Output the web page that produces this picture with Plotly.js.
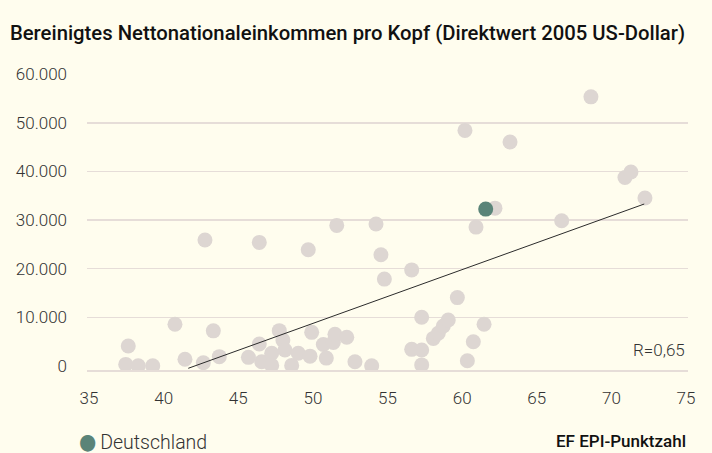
<!DOCTYPE html>
<html><head><meta charset="utf-8">
<script src="https://cdn.plot.ly/plotly-3.0.1.min.js"></script>
<style>html,body{margin:0;padding:0;background:#fffdee;}</style>
</head><body><div id="chart" style="width:712px;height:453px;"></div>
<script>
// EF EPI score (x) and adjusted net national income per capita (y)
const epiScores = [37.46,37.63,38.30,39.27,40.76,41.43,42.66,42.77,43.33,43.73,45.68,46.41,46.41,46.57,47.24,47.24,47.75,47.99,48.13,48.58,49.02,49.81,49.92,50.70,50.90,51.37,51.48,52.27,52.82,53.94,49.69,51.60,54.23,54.56,54.79,56.62,56.62,57.29,57.29,57.29,58.07,58.40,58.74,59.07,59.68,60.35,60.75,61.47,60.93,60.19,62.20,63.21,66.67,68.63,70.91,71.31,72.25];
const incomes =   [300,4100,0,0,8550,1350,650,25900,7200,1900,1750,25400,4500,850,2600,100,7250,5300,3250,100,2600,2000,6900,4400,1600,4800,6500,5900,850,0,23900,28900,29200,22850,17850,19750,3400,3250,200,10000,5650,6700,8200,9450,14050,1050,4950,8550,28550,48450,32450,46050,29850,55350,38750,39900,34550];
const germanyName = ['Deutschland'];
const germanyScore = [61.58];
const germanyIncome = [32250];
const trendX = [41.65, 72.2];
const trendY = [-500, 33300];
const xTicks = [35,40,45,50,55,60,65,70,75];
const yTicks = [0,10000,20000,30000,40000,50000,60000];
const yTickText = ['0','10.000','20.000','30.000','40.000','50.000','60.000'];
const titleText = 'Bereinigtes Nettonationaleinkommen pro Kopf (Direktwert 2005 US-Dollar)';
const xTitleText = 'EF EPI-Punktzahl';
const rText = 'R=0,65';

const FONT = 'Roboto, "DejaVu Sans Condensed", sans-serif';
const grid = '#e6ddd8';
const germanyColor = '#5a8478';

const traces = [
  {x: epiScores, y: incomes, type:'scatter', mode:'markers', showlegend:false, hoverinfo:'skip',
   marker:{size:15, color:'#ddd6d2', line:{width:0}}},
  {x: trendX, y: trendY, type:'scatter', mode:'lines', showlegend:false, hoverinfo:'skip',
   line:{color:'#2b2b2b', width:1}},
  {x: germanyScore, y: germanyIncome, name: germanyName[0], type:'scatter', mode:'markers', showlegend:false,
   marker:{size:15, color:germanyColor, line:{width:0}}}
];

const layout = {
  width:712, height:453,
  paper_bgcolor:'#fffdee', plot_bgcolor:'#fffdee',
  margin:{l:87, r:24, t:74, b:83},
  font:{family:FONT, color:'#222', size:17},
  showlegend:false,
  title:{text:titleText, x:0.014, xanchor:'left', xref:'container', y:0.927, yanchor:'middle', yref:'container',
         font:{family:FONT, size:20.3, color:'#111', weight:500}},
  xaxis:{range:[34.866,75.134], tickvals:xTicks, ticktext:xTicks.map(String), showgrid:false, zeroline:false,
         showline:true, linecolor:grid, linewidth:1.5, ticks:'', ticklabelstandoff:12,
         tickfont:{family:FONT, size:17, color:'#333', weight:300}, fixedrange:true},
  yaxis:{range:[-850,60050], tickvals:yTicks, ticktext:yTickText, showgrid:true, gridcolor:grid, gridwidth:1.5,
         zeroline:true, zerolinecolor:'rgba(0,0,0,0)', showline:false, ticks:'', ticklabelstandoff:19,
         tickfont:{family:FONT, size:17, color:'#333', weight:300}, fixedrange:true},
  annotations:[
    {text:'<span style="color:' + germanyColor + ';font-size:22px">●</span>&#8201;' + germanyName[0],
     xref:'paper', yref:'paper', x:-0.016, xanchor:'left', y:-0.24, yanchor:'middle', showarrow:false,
     font:{family:FONT, size:19.5, color:'#333', weight:300}},
    {text:xTitleText, xref:'paper', yref:'paper', x:1, xanchor:'right', y:-0.24, yanchor:'middle', showarrow:false,
     font:{family:FONT, size:17, color:'#111', weight:500}},
    {text:rText, xref:'paper', yref:'y', x:0.999, xanchor:'right', y:3300, yanchor:'middle', showarrow:false,
     font:{family:FONT, size:17, color:'#333', weight:300}}
  ]
};
Plotly.newPlot('chart', traces, layout, {displayModeBar:false, staticPlot:true});
</script></body></html>
